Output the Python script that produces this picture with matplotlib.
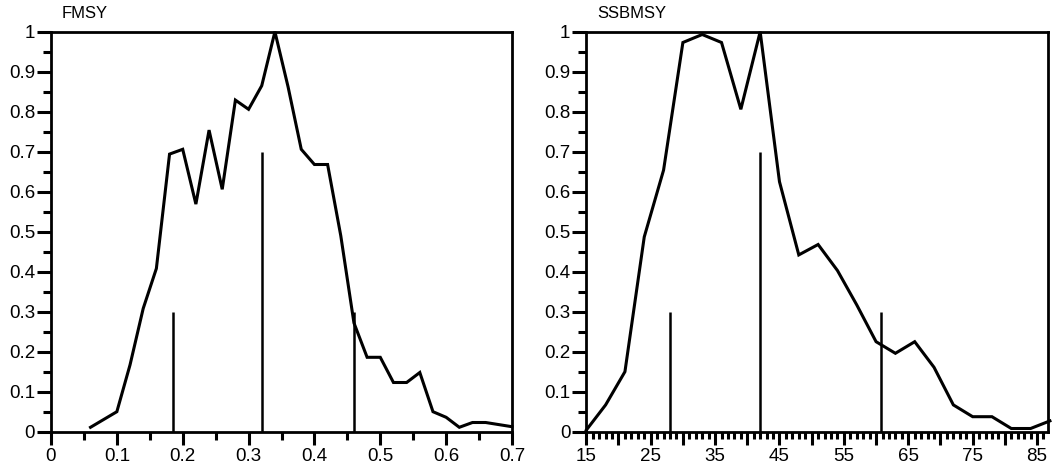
import numpy as np
import matplotlib
matplotlib.use("Agg")
import matplotlib.pyplot as plt
from matplotlib.ticker import MultipleLocator, FixedLocator, FixedFormatter

plt.rcParams['font.family'] = ['Liberation Sans', 'DejaVu Sans']

# FMSY distribution
f_x = [0.06, 0.10, 0.12, 0.14, 0.16, 0.18, 0.20, 0.22, 0.24, 0.26, 0.28, 0.30,
       0.32, 0.34, 0.36, 0.38, 0.40, 0.42, 0.44, 0.46, 0.48, 0.50, 0.52, 0.54,
       0.56, 0.58, 0.60, 0.62, 0.64, 0.66, 0.70]
f_y = [0.011, 0.05, 0.167, 0.308, 0.408, 0.694, 0.706, 0.569, 0.754, 0.606, 0.829, 0.806,
       0.865, 1.0, 0.862, 0.706, 0.668, 0.668, 0.49, 0.272, 0.186, 0.186, 0.123, 0.123,
       0.148, 0.05, 0.036, 0.011, 0.023, 0.023, 0.0125]
f_marks = [0.185, 0.32, 0.46]
f_mark_h = [0.3, 0.7, 0.3]

# SSBMSY distribution
s_x = [15, 18, 21, 24, 27, 30, 33, 36, 39, 42, 45, 48, 51, 54, 57, 60, 63, 66,
       69, 72, 75, 78, 81, 84, 87]
s_y = [0.004, 0.067, 0.15, 0.487, 0.654, 0.973, 0.993, 0.973, 0.806, 1.0, 0.625, 0.442,
       0.468, 0.403, 0.317, 0.225, 0.196, 0.225, 0.161, 0.067, 0.0375, 0.0375, 0.008,
       0.008, 0.027]
s_marks = [28, 42, 60.8]
s_mark_h = [0.3, 0.7, 0.3]

fig = plt.figure(figsize=(10.57, 4.69), dpi=100)
ax1 = fig.add_axes([51/1057, 37.3/469, 461/1057, 400/469])
ax2 = fig.add_axes([586.3/1057, 37.3/469, 461.7/1057, 400/469])


def style(ax, title):
    for s in ax.spines.values():
        s.set_linewidth(2.0)
    ax.set_ylim(0, 1)
    ax.yaxis.set_major_locator(MultipleLocator(0.1))
    ax.yaxis.set_minor_locator(MultipleLocator(0.05))
    ax.yaxis.set_major_formatter(plt.FuncFormatter(lambda v, p: '%g' % round(v, 2)))
    ax.tick_params(which='major', direction='out', length=10, width=2.2, labelsize=13.5, pad=1.5)
    ax.tick_params(which='minor', direction='out', length=6, width=2.2)
    ax.tick_params(axis='x', which='major', length=9, pad=3)
    ax.text(0.024, 1.034, title, transform=ax.transAxes, fontsize=12, va='baseline')


ax1.plot(f_x, f_y, color='black', lw=2.2, solid_joinstyle='miter', clip_on=False)
ax1.vlines(f_marks, 0, f_mark_h, color='black', lw=1.8)
ax1.set_xlim(0, 0.7)
ax1.xaxis.set_major_locator(MultipleLocator(0.1))
ax1.xaxis.set_minor_locator(MultipleLocator(0.05))
ax1.xaxis.set_major_formatter(plt.FuncFormatter(lambda v, p: '%g' % round(v, 2)))
style(ax1, 'FMSY')

ax2.plot(s_x, s_y, color='black', lw=2.2, solid_joinstyle='miter', clip_on=False)
ax2.vlines(s_marks, 0, s_mark_h, color='black', lw=1.8)
ax2.set_xlim(15, 86.7)
major = list(range(15, 86, 5))
ax2.xaxis.set_major_locator(FixedLocator(major))
ax2.xaxis.set_major_formatter(FixedFormatter([str(v) if (v - 15) % 10 == 0 else '' for v in major]))
ax2.xaxis.set_minor_locator(MultipleLocator(1))
style(ax2, 'SSBMSY')
ax2.tick_params(axis='x', which='minor', length=5)

fig.savefig('out.png', dpi=100)
